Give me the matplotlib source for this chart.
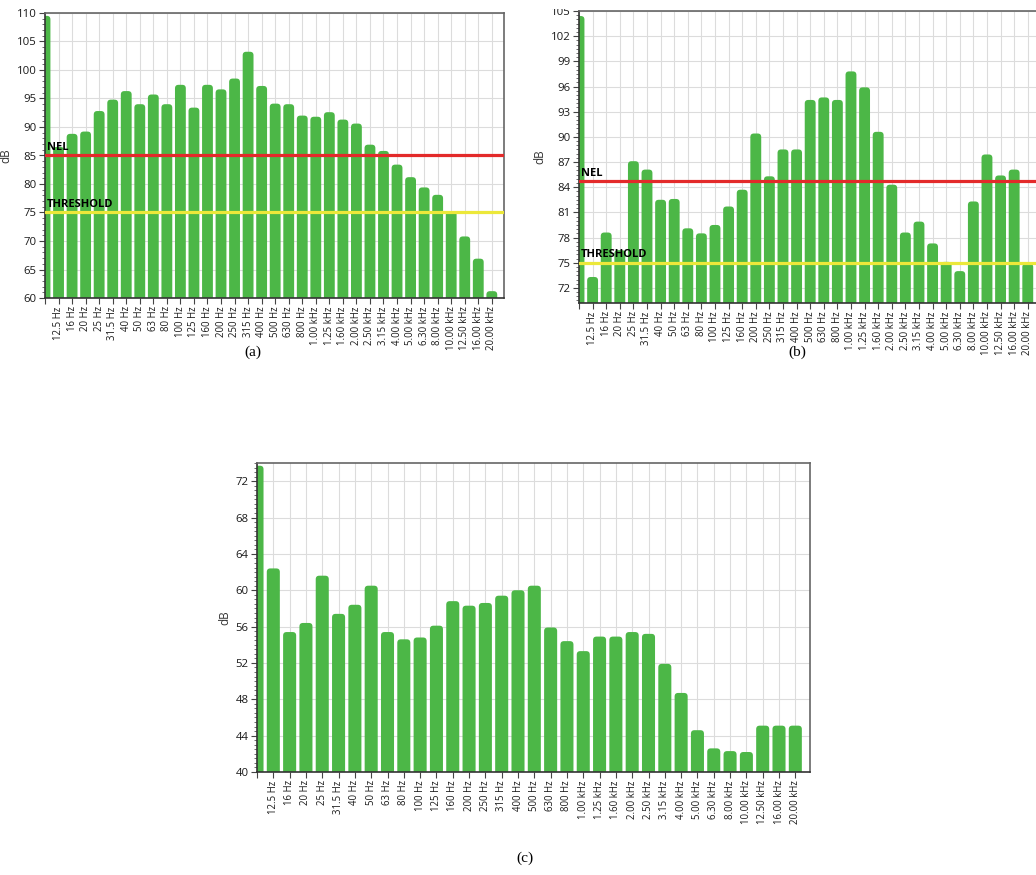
import numpy as np
import matplotlib
matplotlib.use("Agg")
import matplotlib.pyplot as plt
from matplotlib.patches import FancyBboxPatch, Rectangle
from matplotlib.ticker import MultipleLocator

plt.rcParams['font.family'] = ['Open Sans', 'DejaVu Sans']

# 1/3-octave band labels (position 0 is the overall level)
bands = ["12.5 Hz", "16 Hz", "20 Hz", "25 Hz", "31.5 Hz", "40 Hz", "50 Hz", "63 Hz",
         "80 Hz", "100 Hz", "125 Hz", "160 Hz", "200 Hz", "250 Hz", "315 Hz", "400 Hz",
         "500 Hz", "630 Hz", "800 Hz", "1.00 kHz", "1.25 kHz", "1.60 kHz", "2.00 kHz",
         "2.50 kHz", "3.15 kHz", "4.00 kHz", "5.00 kHz", "6.30 kHz", "8.00 kHz",
         "10.00 kHz", "12.50 kHz", "16.00 kHz", "20.00 kHz"]

# (a)
overall_a = 109.5
levels_a = [86.5, 88.8, 89.2, 92.8, 94.8, 96.3, 94.0, 95.7, 94.0, 97.4, 93.4, 97.4,
            96.6, 98.5, 103.2, 97.2, 94.1, 94.0, 92.0, 91.8, 92.6, 91.3, 90.6, 86.9,
            85.8, 83.4, 81.2, 79.4, 78.1, 75.2, 70.8, 66.9, 61.2]

# (b)
overall_b = 104.4
levels_b = [73.3, 78.6, 76.5, 87.1, 86.1, 82.5, 82.6, 79.1, 78.5, 79.5, 81.7, 83.7,
            90.4, 85.3, 88.5, 88.5, 94.4, 94.7, 94.4, 97.8, 95.9, 90.6, 84.3, 78.6,
            79.9, 77.3, 75.1, 74.0, 82.3, 87.9, 85.4, 86.1, 74.9]

# (c)
overall_c = 73.7
levels_c = [62.4, 55.4, 56.4, 61.6, 57.4, 58.4, 60.5, 55.4, 54.6, 54.8, 56.1, 58.8,
            58.3, 58.6, 59.4, 60.0, 60.5, 55.9, 54.4, 53.3, 54.9, 54.9, 55.4, 55.2,
            51.9, 48.7, 44.6, 42.6, 42.3, 42.2, 45.1, 45.1, 45.1]

nel_a, threshold_a = 85.0, 75.0
nel_b, threshold_b = 84.7, 75.0

BAR_GREEN = "#4cb747"
W, H = 1036, 875


def draw_panel(ax, overall, levels, ylim, major, minor, nel=None, threshold=None):
    x = np.arange(len(levels) + 1)
    vals = np.array([overall] + levels)
    ax.set_xlim(0, 33.9)
    ax.set_ylim(*ylim)
    base = ylim[0] - 3
    bars = ax.bar(x, vals - base, bottom=base, width=0.8)

    # swap the plain rectangles for rounded-top boxes
    bbox = ax.get_position()
    xpp = 33.9 / (bbox.width * W)
    ypp = (ylim[1] - ylim[0]) / (bbox.height * H)
    r = 3.5 * xpp
    for rect in bars:
        rx, ry = rect.get_x(), rect.get_y()
        rw, rh = rect.get_width(), rect.get_height()
        rect.remove()
        ax.add_patch(FancyBboxPatch((rx, ry), rw, rh,
                                    boxstyle=f"round,pad=0,rounding_size={r}",
                                    mutation_aspect=ypp / xpp,
                                    facecolor=BAR_GREEN, edgecolor="none", zorder=2))

    ax.set_xticks(x)
    ax.set_xticklabels([""] + bands, rotation=90, fontsize=6.9)
    ax.yaxis.set_major_locator(MultipleLocator(major))
    ax.yaxis.set_minor_locator(MultipleLocator(minor))
    ax.tick_params(axis="both", which="major", direction="out", length=4,
                   width=0.8, color="#444444", labelcolor="#1a1a1a", pad=2)
    ax.tick_params(axis="y", which="major", labelsize=8.2)
    ax.tick_params(axis="y", which="minor", length=2, width=0.6, color="#555555")
    ax.grid(True, which="major", color="#dcdcdc", lw=0.8, zorder=0)
    ax.set_axisbelow(True)
    for s in ax.spines.values():
        s.set_color("#666666")
        s.set_linewidth(1.2)
    ax.spines["left"].set_color("#333333")
    ax.spines["bottom"].set_color("#333333")
    ax.set_ylabel("dB", fontsize=8.5, color="#333333", labelpad=3)

    off = (ylim[1] - ylim[0]) * 0.008
    if nel is not None:
        ax.axhline(nel, color="#e32a2a", lw=2.3, zorder=3)
        ax.text(0.15, nel + off, "NEL", fontsize=8, fontweight="bold",
                va="bottom", ha="left", color="black", zorder=4)
    if threshold is not None:
        ax.axhline(threshold, color="#ece83a", lw=2.3, zorder=3)
        ax.text(0.15, threshold + off, "THRESHOLD", fontsize=8,
                fontweight="bold", va="bottom", ha="left", color="black", zorder=4)


fig = plt.figure(figsize=(W / 100, H / 100), dpi=100)

ax_a = fig.add_axes([45 / W, 1 - 298 / H, 459 / W, 285 / H])
draw_panel(ax_a, overall_a, levels_a, (60, 110), 5, 1, nel_a, threshold_a)

ax_b = fig.add_axes([579 / W, 1 - 303 / H, 461 / W, 292 / H])
draw_panel(ax_b, overall_b, levels_b, (70.2, 105), 3, 0.5, nel_b, threshold_b)

ax_c = fig.add_axes([257 / W, 1 - 772 / H, 553 / W, 309 / H])
draw_panel(ax_c, overall_c, levels_c, (40, 74), 4, 0.5)

# top margin strip trims the upper tick labels of (a) and (b)
fig.patches.append(Rectangle((0, 1 - 9 / H), 1, 9 / H, transform=fig.transFigure,
                             facecolor="white", edgecolor="none", zorder=10))

cap = dict(fontsize=11, family=["Liberation Serif", "DejaVu Serif"], ha="center", va="center")
fig.text(253 / W, 1 - 352 / H, "(a)", **cap)
fig.text(797 / W, 1 - 352 / H, "(b)", **cap)
fig.text(525 / W, 1 - 858 / H, "(c)", **cap)

fig.savefig("out.png", dpi=100)
